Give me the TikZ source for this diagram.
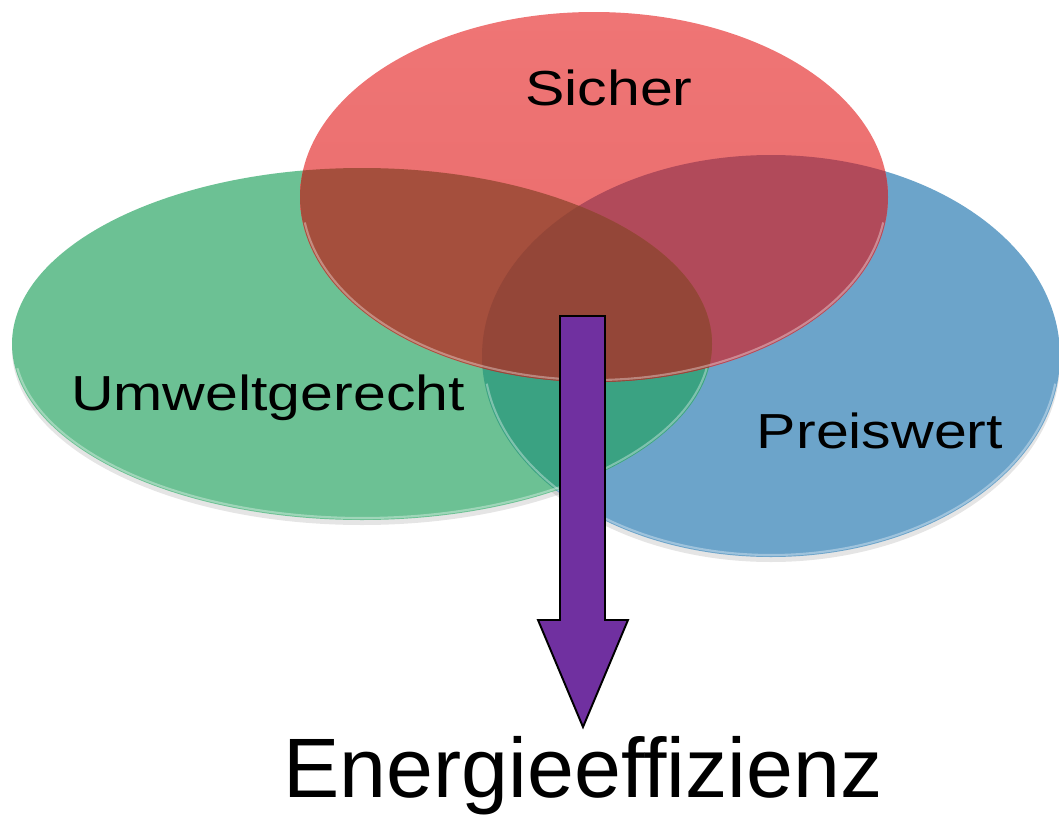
\documentclass[tikz,border=0pt]{standalone}
\usepackage{graphicx}
\usepackage{fontspec}
\setmainfont{Liberation Sans}
\usepackage{tikz}
\definecolor{redset}{HTML}{E86B6B}
\definecolor{redtop}{HTML}{EF7575}
\definecolor{greenset}{HTML}{6CC194}
\definecolor{blueset}{HTML}{6CA4CA}
\definecolor{redgreen}{HTML}{A54F3D}
\definecolor{redblue}{HTML}{B14A5A}
\definecolor{greenblue}{HTML}{3AA282}
\definecolor{allthree}{HTML}{944638}
\definecolor{purple}{HTML}{7030A0}
\newcommand{\widelbl}[1]{\scalebox{1.2}[1]{#1}}
\tikzset{
  shadowfill/.style={fill=black, fill opacity=0.10},
  rim/.style={draw=white, draw opacity=0.35, line width=1.2pt},
  lbl/.style={text=black, font=\fontsize{28}{32}\selectfont},
  biglbl/.style={text=black, font=\fontsize{48}{56}\selectfont},
  blockarrow/.style={fill=purple, draw=black, line width=1.1pt, line join=miter}
}

\begin{document}
\begin{tikzpicture}[x=0.02cm, y=-0.02cm]
  \useasboundingbox (0,0) rectangle (1059,815);

  \def\redset{(594,197) ellipse [x radius=294, y radius=185]}
  \def\greenset{(362,344) ellipse [x radius=350, y radius=176]}
  \def\blueset{(771,356) ellipse [x radius=289, y radius=201]}

  % soft shadows
  \fill[shadowfill] (771,361) ellipse [x radius=289, y radius=201];
  \fill[shadowfill] (362,349) ellipse [x radius=350, y radius=176];

  \fill[blueset] \blueset;
  \fill[greenset] \greenset;
  \shade[top color=redtop, bottom color=redset] \redset;

  \begin{scope}
    \clip \greenset;
    \fill[greenblue] \blueset;
  \end{scope}
  \begin{scope}
    \clip \redset;
    \fill[redblue] \blueset;
  \end{scope}
  \begin{scope}
    \clip \redset;
    \fill[redgreen] \greenset;
    \clip \greenset;
    \fill[allthree] \blueset;
  \end{scope}

  % bevel on the lower edges
  \draw[rim] (771,356) ++(8:287 and 199) arc [start angle=8, end angle=172, x radius=287, y radius=199];
  \draw[rim] (362,344) ++(8:348 and 174) arc [start angle=8, end angle=172, x radius=348, y radius=174];
  \draw[rim] (594,197) ++(8:292 and 183) arc [start angle=8, end angle=172, x radius=292, y radius=183];

  \node[lbl, anchor=base] (sicher) at (609,105) {\widelbl{Sicher}};
  \node[lbl, anchor=base] (umwelt) at (268,410) {\widelbl{Umweltgerecht}};
  \node[lbl, anchor=base] (preis) at (880,448) {\widelbl{Preiswert}};

  \node[biglbl, anchor=base] (effizienz) at (583,797) {Energieeffizienz};

  \coordinate (tip) at (583,727);
  \draw[blockarrow] (560,316) -- (605,316) -- (605,620) -- (628,620)
    -- (tip) -- (538,620) -- (560,620) -- cycle;
\end{tikzpicture}
\end{document}
